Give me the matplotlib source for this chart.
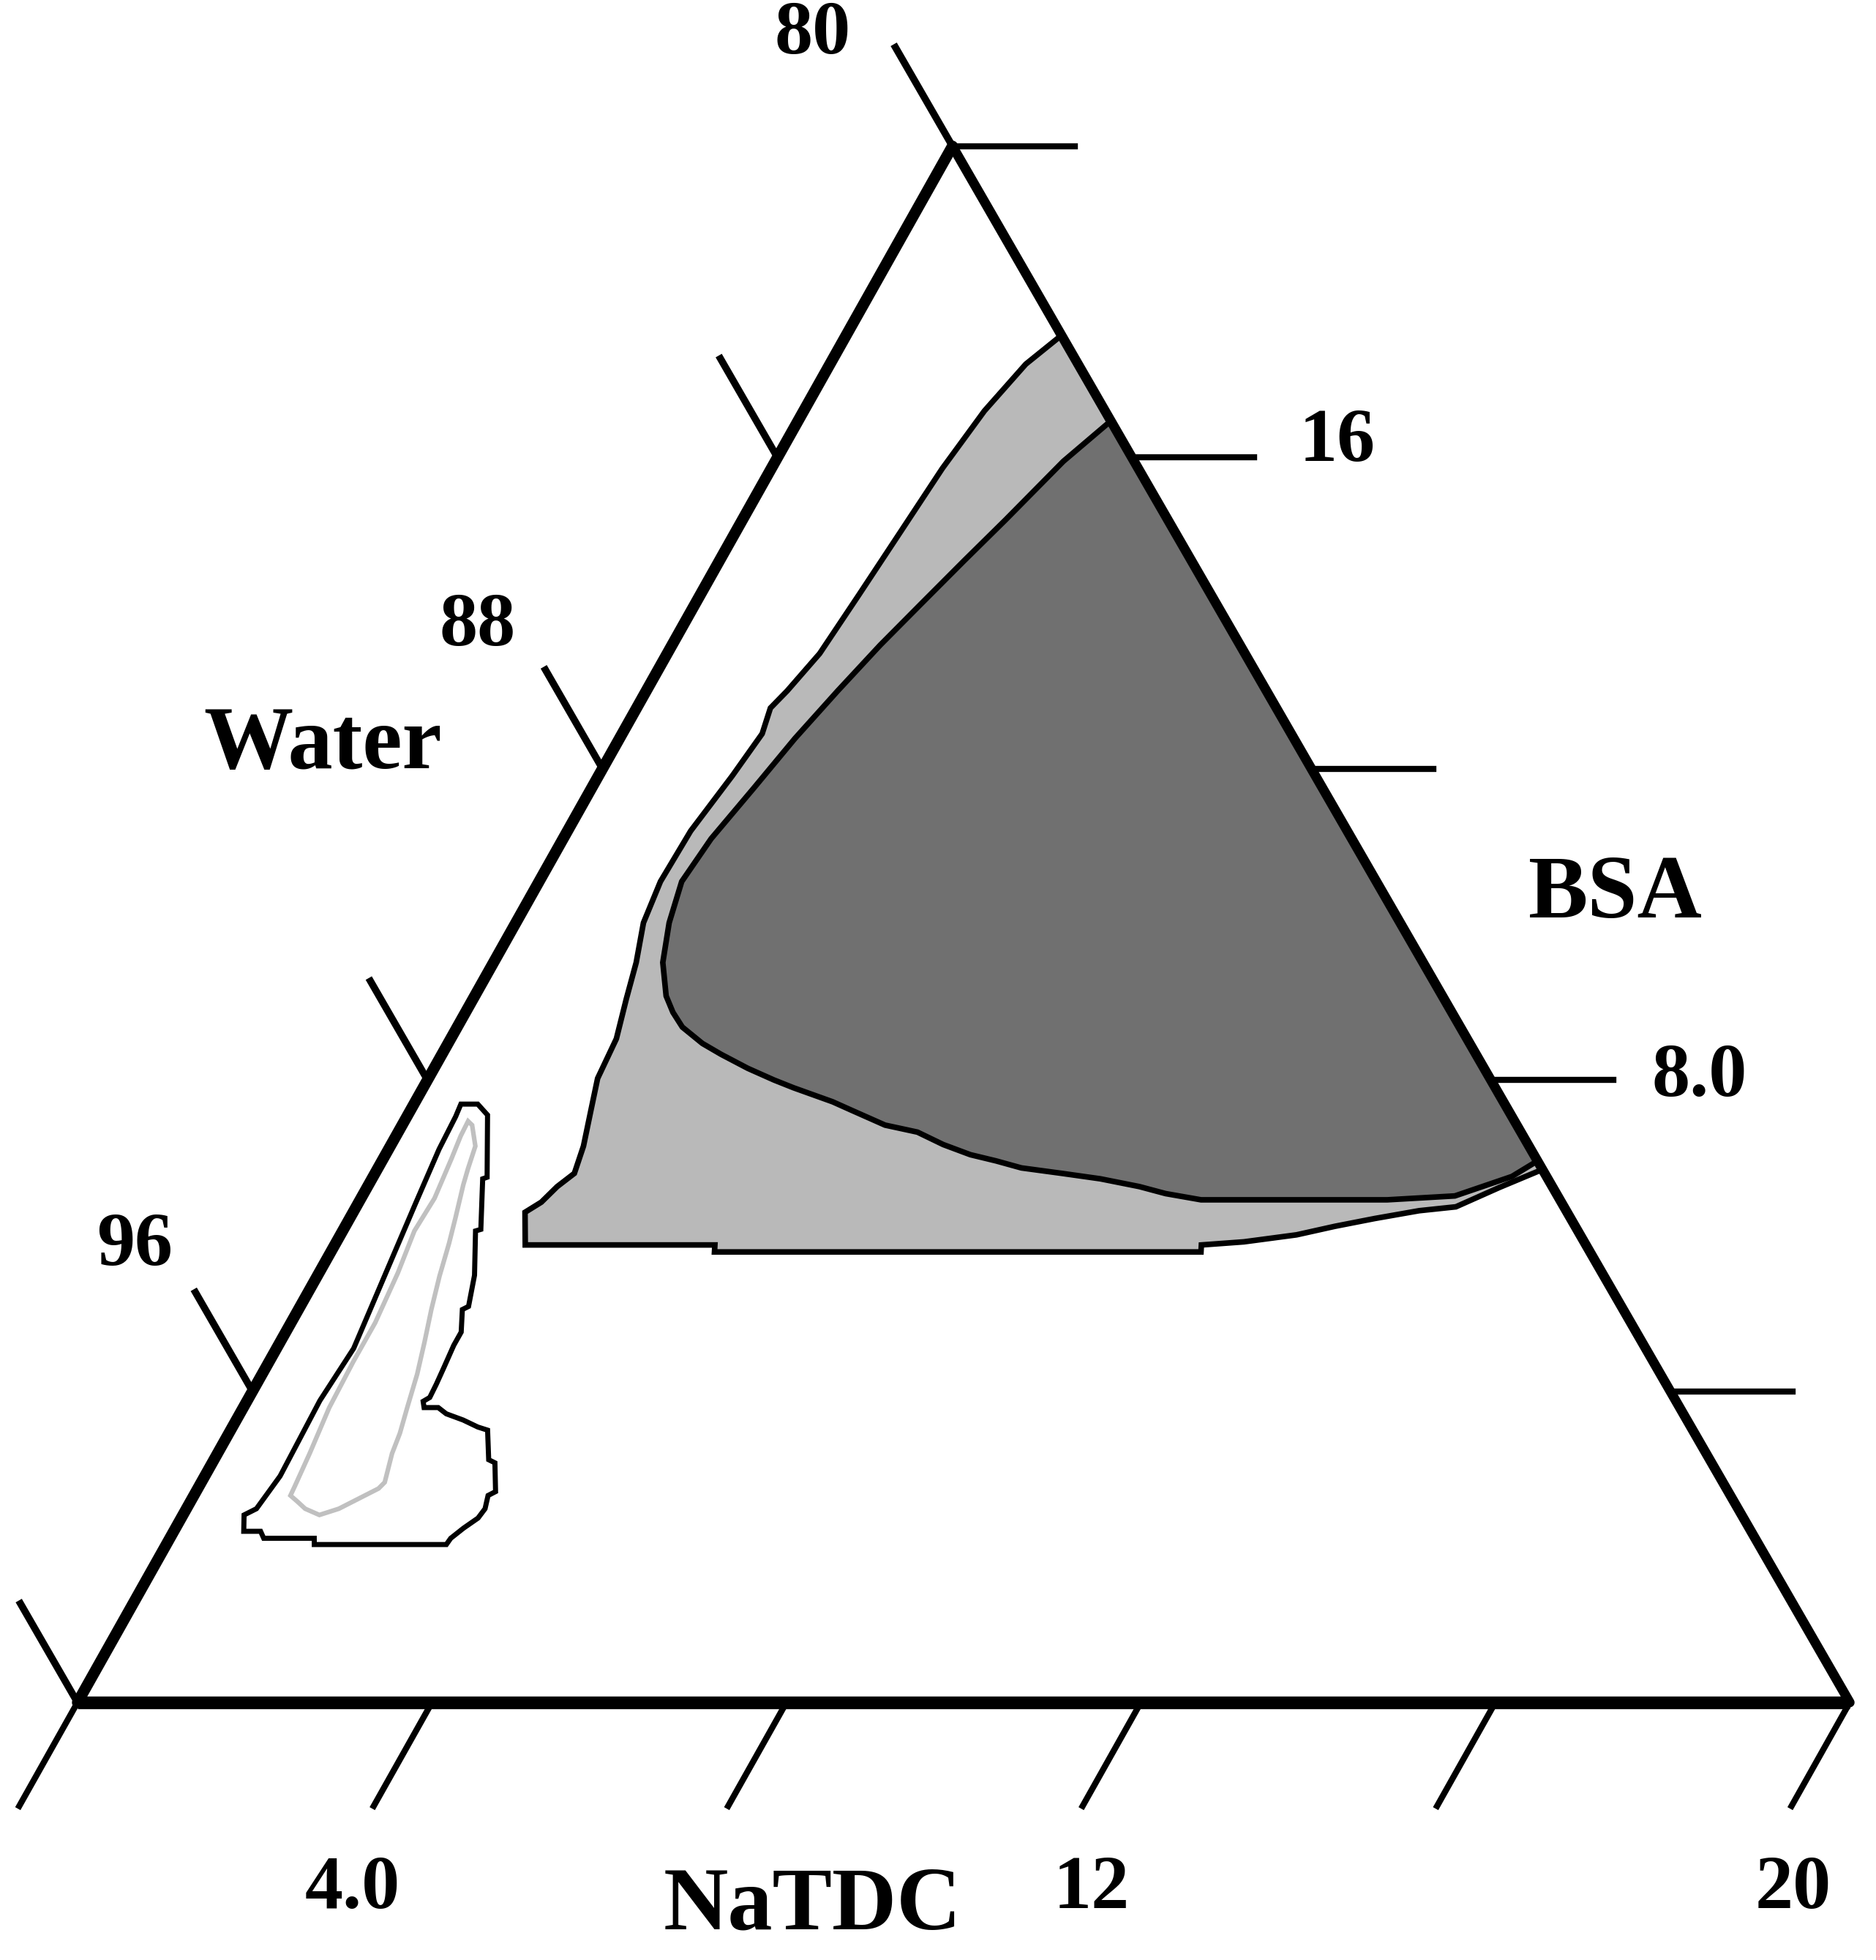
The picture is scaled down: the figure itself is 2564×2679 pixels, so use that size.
import numpy as np
import matplotlib.pyplot as plt
from matplotlib.patches import Polygon

# compositions in wt% : NaTDC, BSA   (water = 100 - NaTDC - BSA)
light_natdc = [2.43, 2.21, 2.04, 1.93, 1.86, 1.79, 1.72, 1.59, 1.51, 1.58, 1.51, 1.39, 1.37,
               1.44, 1.61, 1.73, 1.87, 1.91, 2.04, 2.18, 2.25, 2.14, 2.06, 1.94, 2.15, 4.29,
               4.33, 9.82, 9.78, 10.24, 10.79, 11.17, 11.57, 12.02, 12.41, 12.78, 13.15]
light_bsa = [17.57, 17.20, 16.60, 15.86, 15.04, 14.23, 13.48, 13.00, 12.78, 12.45, 11.91, 11.20,
             10.55, 10.02, 9.51, 9.04, 8.53, 8.02, 7.60, 7.15, 6.80, 6.63, 6.43, 6.30, 5.88,
             5.88, 5.79, 5.79, 5.88, 5.92, 6.01, 6.12, 6.22, 6.32, 6.37, 6.62, 6.85]

dark_natdc = [3.53, 3.25, 2.97, 2.76, 2.55, 2.35, 2.16, 1.98, 1.83, 1.67, 1.61, 1.73, 1.91,
              2.16, 2.34, 2.54, 2.87, 3.15, 3.54, 3.91, 4.18, 4.71, 4.98, 5.45, 5.86, 6.23,
              6.60, 6.93, 7.26, 7.75, 8.22, 8.71, 9.05, 9.49, 11.59, 12.33, 12.85, 13.04]
dark_bsa = [16.47, 15.95, 15.20, 14.67, 14.12, 13.59, 13.00, 12.39, 11.75, 11.10, 10.55, 10.02,
            9.51, 9.08, 8.87, 8.68, 8.47, 8.33, 8.15, 8.00, 7.90, 7.72, 7.61, 7.42, 7.33, 7.17,
            7.04, 6.96, 6.87, 6.80, 6.73, 6.63, 6.54, 6.46, 6.46, 6.51, 6.76, 6.96]

small_natdc = [0.53, 0.72, 0.90, 1.29, 1.25, 1.55, 1.50, 1.77, 1.90, 1.85, 1.98, 1.98, 2.01,
               2.03, 2.04, 1.99, 2.04, 2.20, 2.33, 2.56, 2.77, 2.90, 3.10, 3.19, 3.38, 3.32,
               3.37, 3.35, 3.25, 3.17, 3.16, 1.67, 1.63, 1.06, 0.98, 0.79, 0.69, 0.79, 0.85,
               0.82, 0.87, 0.74, 0.65, 0.57, 0.55]
small_bsa = [7.69, 7.69, 7.55, 6.75, 6.73, 6.08, 6.06, 5.49, 5.09, 5.05, 4.76, 4.59, 4.30,
             4.09, 3.92, 3.87, 3.79, 3.79, 3.71, 3.63, 3.54, 3.50, 3.12, 3.08, 2.71, 2.66,
             2.49, 2.37, 2.24, 2.11, 2.03, 2.03, 2.11, 2.11, 2.20, 2.20, 2.41, 2.49, 2.91,
             3.88, 4.55, 5.64, 6.40, 7.11, 7.53]

inner_natdc = [0.72, 0.73, 0.77, 0.83, 0.81, 0.89, 0.95, 0.95, 0.97, 1.04, 1.08, 1.09, 1.21,
               1.34, 1.54, 1.72, 1.88, 2.04, 2.07, 1.97, 1.93, 1.85, 1.75, 1.63, 1.50, 1.38,
               1.28, 1.19, 1.07, 1.02, 0.96, 0.79]
inner_bsa = [7.47, 7.28, 6.99, 6.48, 6.06, 5.52, 4.88, 4.38, 3.79, 3.20, 2.78, 2.66, 2.58,
             2.49, 2.41, 2.49, 2.62, 2.75, 2.83, 3.20, 3.46, 3.79, 4.22, 4.63, 5.05, 5.48,
             5.90, 6.23, 6.65, 6.86, 7.15, 7.42]

natdc_ticks = [0, 4, 8, 12, 16, 20]
bsa_ticks = [4, 8, 12, 16, 20]
water_ticks = [100, 96, 92, 88, 84, 80]

LEAN = 0.4937  # the scanned triangle leans a bit, top is not exactly centred


def to_xy(a, b):
    a = np.asarray(a, dtype=float)
    b = np.asarray(b, dtype=float)
    return a + LEAN * b, b * np.sqrt(3) / 2


fig = plt.figure(figsize=(25.64, 26.79), dpi=100)
ax = fig.add_axes([0, 0, 1, 1])
ax.set_xlim(-0.8745, 20.296)
ax.set_ylim(-2.866, 18.948)
ax.axis('off')

# phase regions
x, y = to_xy(light_natdc, light_bsa)
ax.add_patch(Polygon(np.column_stack([x, y]), closed=True, fc='#b9b9b9', ec='black', lw=5.5,
                     joinstyle='miter', zorder=2))
x, y = to_xy(dark_natdc, dark_bsa)
ax.add_patch(Polygon(np.column_stack([x, y]), closed=True, fc='#707070', ec='black', lw=5.5,
                     joinstyle='miter', zorder=3))
x, y = to_xy(small_natdc, small_bsa)
ax.add_patch(Polygon(np.column_stack([x, y]), closed=True, fc='white', ec='black', lw=5,
                     joinstyle='miter', zorder=2))
x, y = to_xy(inner_natdc, inner_bsa)
ax.add_patch(Polygon(np.column_stack([x, y]), closed=True, fill=False, ec='#c0c0c0', lw=4.5,
                     zorder=3))

# triangle edges
x, y = to_xy([0, 20], [0, 0])
ax.plot(x, y, color='black', lw=12.5, solid_capstyle='butt', zorder=5)
x, y = to_xy([0, 0], [0, 20])
ax.plot(x, y, color='black', lw=11, solid_capstyle='round', zorder=5)
x, y = to_xy([20, 0], [0, 20])
ax.plot(x, y, color='black', lw=9.5, solid_capstyle='round', zorder=5)

# ticks
for t in natdc_ticks:
    x, y = to_xy([t, t], [0, -1.33])
    ax.plot(x, y, color='black', lw=6, zorder=4)
for w in water_ticks:
    b = 100 - w
    x, y = to_xy([0, -1.27], [b, b + 1.27])
    ax.plot(x, y, color='black', lw=7, zorder=4)
for b in bsa_ticks:
    x, y = to_xy([20 - b, 20 - b + 1.38], [b, b])
    ax.plot(x, y, color='black', lw=6, zorder=4)

# labels
font = dict(family='Liberation Serif', fontweight='bold', ha='center', va='center')
tick_labels = ['80', '88', '96', '16', '8.0', '4.0', '12', '20']
tick_pos = [(0.433, 0.982), (0.2545, 0.680), (0.072, 0.364), (0.713, 0.774),
            (0.906, 0.450), (0.188, 0.036), (0.582, 0.036), (0.956, 0.036)]
for s, (fx, fy) in zip(tick_labels, tick_pos):
    fig.text(fx, fy, s, fontsize=75, **font)

axis_titles = ['Water', 'BSA', 'NaTDC']
title_pos = [(0.172, 0.619), (0.861, 0.543), (0.433, 0.027)]
for s, (fx, fy) in zip(axis_titles, title_pos):
    fig.text(fx, fy, s, fontsize=88, **font)

fig.savefig('out.png', dpi=100, facecolor='white')
